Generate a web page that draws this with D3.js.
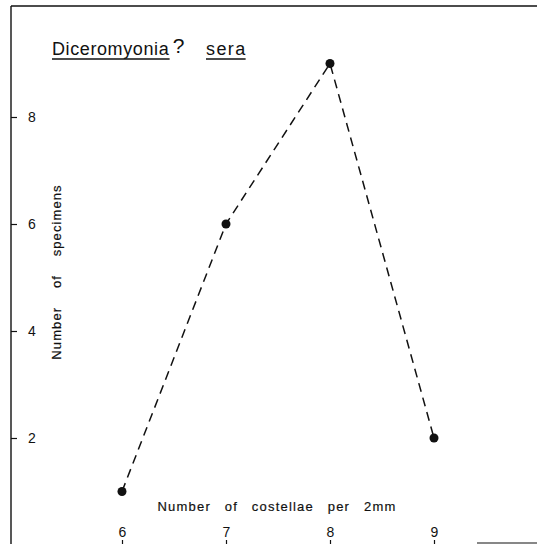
<!DOCTYPE html>
<html>
<head>
<meta charset="utf-8">
<script src="https://cdn.jsdelivr.net/npm/d3@7"></script>
<style>
  body { margin: 0; background: #fff; }
  svg { display: block; }
  text { font-family: "Liberation Sans", Arial, sans-serif; fill: #111; }
</style>
</head>
<body>
<svg id="chart" width="537" height="544"></svg>
<script>
// data
const costellae = [6, 7, 8, 9];
const specimens = [1, 6, 9, 2];
const yTicks = [2, 4, 6, 8];
const genus = "Diceromyonia";
const species = "sera";
const xLabel = "Number of costellae per 2mm";
const yLabel = "Number of specimens";

let svg = d3.select("#chart");

let x_scale = d3.scaleLinear()
    .domain([6, 9])
    .range([122, 434]);

let y_scale = d3.scaleLinear()
    .domain([2, 8])
    .range([438, 117]);

let axisX = 11;
let baseY = 544;

// frame: top line and left axis line
svg.append("line")
    .attr("x1", axisX).attr("x2", 537)
    .attr("y1", 6).attr("y2", 6)
    .attr("stroke", "#111").attr("stroke-width", 1.6);

svg.append("line")
    .attr("x1", axisX).attr("x2", axisX)
    .attr("y1", 6).attr("y2", baseY)
    .attr("stroke", "#111").attr("stroke-width", 1.4);

// short line at bottom right
svg.append("line")
    .attr("x1", 477).attr("x2", 537)
    .attr("y1", baseY - 1).attr("y2", baseY - 1)
    .attr("stroke", "#111").attr("stroke-width", 1.2);

// y axis (ticks pointing inward)
svg.append("g")
    .attr("transform", `translate(${axisX},0)`)
    .call(d3.axisRight(y_scale).tickValues(yTicks).tickFormat(d3.format("d")).tickSize(6).tickPadding(11))
    .call(g => g.select(".domain").remove())
    .call(g => g.selectAll(".tick line").attr("stroke", "#111").attr("stroke-width", 1.2))
    .call(g => g.selectAll(".tick text")
        .attr("font-size", "14px")
        .attr("font-family", "Liberation Sans, Arial, sans-serif")
        .attr("fill", "#111"));

// x axis (ticks at bottom edge, labels above)
svg.append("g")
    .attr("transform", `translate(0,${baseY})`)
    .call(d3.axisTop(x_scale).tickValues(costellae).tickFormat(d3.format("d")).tickSize(4).tickPadding(3))
    .call(g => g.select(".domain").remove())
    .call(g => g.selectAll(".tick line").attr("stroke", "#111").attr("stroke-width", 1.2))
    .call(g => g.selectAll(".tick text")
        .attr("font-size", "14px")
        .attr("font-family", "Liberation Sans, Arial, sans-serif")
        .attr("fill", "#111"));

// x label
svg.append("text")
    .attr("x", 277)
    .attr("y", 511)
    .attr("text-anchor", "middle")
    .attr("font-size", "13px")
    .attr("letter-spacing", "1.2px")
    .attr("word-spacing", "9px")
    .attr("stroke", "#111").attr("stroke-width", 0.2)
    .text(xLabel);

// y label
svg.append("text")
    .attr("transform", `translate(61,272) rotate(-90)`)
    .attr("text-anchor", "middle")
    .attr("font-size", "13px")
    .attr("letter-spacing", "1.1px")
    .attr("word-spacing", "14px")
    .attr("stroke", "#111").attr("stroke-width", 0.2)
    .text(yLabel);

// title with underlined names
let t1 = svg.append("text")
    .attr("x", 52).attr("y", 55)
    .attr("font-size", "18px")
    .attr("letter-spacing", "0.6px")
    .text(genus);
let b1 = t1.node().getBBox();
svg.append("line")
    .attr("x1", b1.x).attr("x2", b1.x + b1.width)
    .attr("y1", 59).attr("y2", 59)
    .attr("stroke", "#111").attr("stroke-width", 1.5);

svg.append("text")
    .attr("x", b1.x + b1.width + 3).attr("y", 53)
    .attr("font-size", "21px")
    .text("?");

let t2 = svg.append("text")
    .attr("x", 206).attr("y", 55)
    .attr("font-size", "18px")
    .attr("letter-spacing", "1.4px")
    .text(species);
let b2 = t2.node().getBBox();
svg.append("line")
    .attr("x1", b2.x).attr("x2", b2.x + b2.width - 1)
    .attr("y1", 59).attr("y2", 59)
    .attr("stroke", "#111").attr("stroke-width", 1.5);

// dashed line and points
let pts = costellae.map((c, i) => ({x: c, y: specimens[i]}));

let line = d3.line()
    .x(d => x_scale(d.x))
    .y(d => y_scale(d.y));

svg.append("path")
    .datum(pts)
    .attr("d", line)
    .attr("fill", "none")
    .attr("stroke", "#111")
    .attr("stroke-width", 1.5)
    .attr("stroke-dasharray", "9,6");

svg.selectAll(".pt")
    .data(pts)
    .enter().append("circle")
    .attr("class", "pt")
    .attr("cx", d => x_scale(d.x))
    .attr("cy", d => y_scale(d.y))
    .attr("r", 4.5)
    .attr("fill", "#111");
</script>
</body>
</html>
